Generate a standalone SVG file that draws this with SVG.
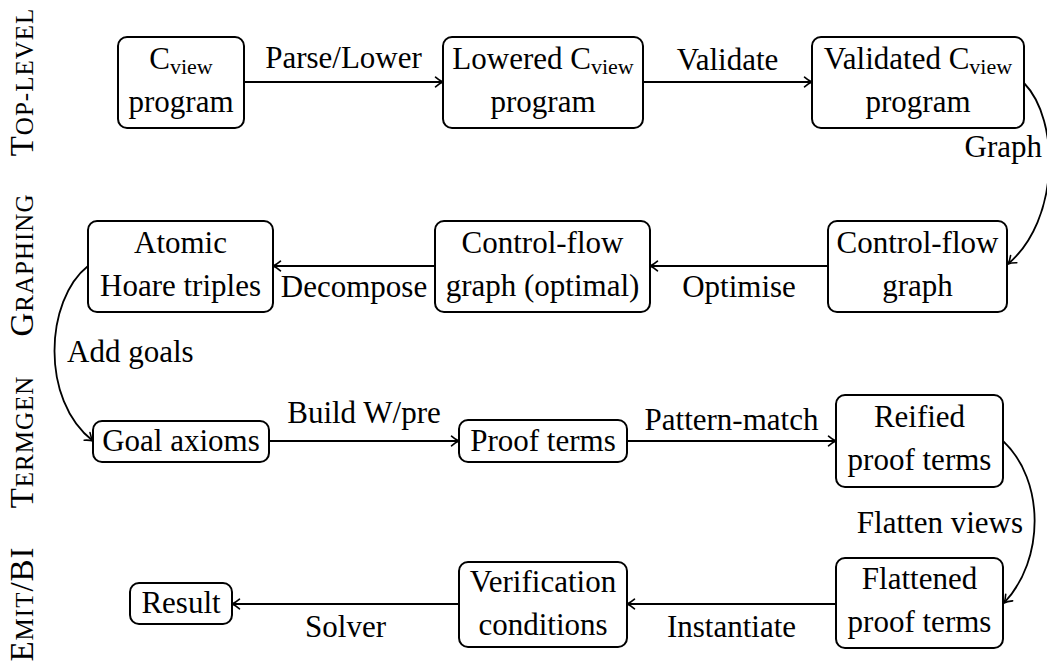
<svg xmlns="http://www.w3.org/2000/svg" width="1047" height="664" viewBox="0 0 1047 664" font-family="'Liberation Serif', serif" font-size="31">
  <style>
    .c { text-anchor: middle; }
    .sub { font-size: 22px; }
    .box { fill: #fff; stroke: #000; stroke-width: 2; }
    .edge { fill: none; stroke: #000; stroke-width: 1.8; marker-end: url(#tip); }
    .lane { font-size: 33px; letter-spacing: 1px; text-anchor: middle; }
    .sc { font-size: 25px; }
  </style>
  <defs>
    <marker id="tip" markerUnits="userSpaceOnUse" viewBox="-9 -6 10 12" refX="0" refY="0" markerWidth="10" markerHeight="12" orient="auto" overflow="visible">
      <path d="M-7.5,-4.8 C-4.5,-2.2 -1.8,-0.6 0,0 C-1.8,0.6 -4.5,2.2 -7.5,4.8" fill="none" stroke="#000" stroke-width="1.6" stroke-linecap="round"/>
    </marker>
  </defs>

  <!-- stage labels down the left margin -->
  <g id="lanes">
    <text class="lane" transform="translate(33,82) rotate(-90)">T<tspan class="sc">OP-LEVEL</tspan></text>
    <text class="lane" transform="translate(33,265) rotate(-90)">G<tspan class="sc">RAPHING</tspan></text>
    <text class="lane" transform="translate(33,442) rotate(-90)">T<tspan class="sc">ERMGEN</tspan></text>
    <text class="lane" transform="translate(33,604) rotate(-90)">E<tspan class="sc">MIT</tspan>/BI</text>
  </g>

  <!-- connectors -->
  <g id="edges">
    <path class="edge" d="M244,82 H443"/>
    <path class="edge" d="M643,82 H812"/>
    <path class="edge" d="M1024,83 C1060,120 1060,220 1008,264"/>
    <path class="edge" d="M828,266 H650"/>
    <path class="edge" d="M435,266 H273"/>
    <path class="edge" d="M88,266 C45,300 40,400 93,441"/>
    <path class="edge" d="M269,441 H459"/>
    <path class="edge" d="M627,441 H836"/>
    <path class="edge" d="M1003,441 C1045,480 1045,560 1004,603"/>
    <path class="edge" d="M836,604 H627"/>
    <path class="edge" d="M459,604 H232"/>
  </g>

  <!-- connector labels -->
  <g id="edge-labels">
    <text class="c" x="343.5" y="68">Parse/Lower</text>
    <text class="c" x="727.5" y="70">Validate</text>
    <text x="1042" y="157" text-anchor="end">Graph</text>
    <text class="c" x="739" y="297">Optimise</text>
    <text class="c" x="354" y="297">Decompose</text>
    <text x="67" y="362">Add goals</text>
    <text class="c" x="364" y="423">Build W/pre</text>
    <text class="c" x="731.5" y="430">Pattern-match</text>
    <text x="1023" y="533" text-anchor="end">Flatten views</text>
    <text class="c" x="731.5" y="637">Instantiate</text>
    <text class="c" x="345.5" y="637">Solver</text>
  </g>

  <g id="cview">
    <rect class="box" x="118" y="37" width="126" height="91" rx="9"/>
    <text class="c" x="181" y="69">C<tspan class="sub" dy="5">view</tspan></text>
    <text class="c" x="181" y="112">program</text>
  </g>
  <g id="lowered">
    <rect class="box" x="443" y="37" width="200" height="91" rx="9"/>
    <text class="c" x="543" y="69">Lowered C<tspan class="sub" dy="5">view</tspan></text>
    <text class="c" x="543" y="112">program</text>
  </g>
  <g id="validated">
    <rect class="box" x="812" y="37" width="212" height="91" rx="9"/>
    <text class="c" x="918" y="69">Validated C<tspan class="sub" dy="5">view</tspan></text>
    <text class="c" x="918" y="112">program</text>
  </g>
  <g id="cfg">
    <rect class="box" x="828" y="221" width="179" height="91" rx="9"/>
    <text class="c" x="917.5" y="253">Control-flow</text>
    <text class="c" x="917.5" y="296">graph</text>
  </g>
  <g id="cfg-optimal">
    <rect class="box" x="435" y="221" width="215" height="91" rx="9"/>
    <text class="c" x="542.5" y="253">Control-flow</text>
    <text class="c" x="542.5" y="296">graph (optimal)</text>
  </g>
  <g id="atomic">
    <rect class="box" x="88" y="221" width="185" height="91" rx="9"/>
    <text class="c" x="180.5" y="253">Atomic</text>
    <text class="c" x="180.5" y="296">Hoare triples</text>
  </g>
  <g id="goal-axioms">
    <rect class="box" x="93" y="421" width="176" height="41" rx="9"/>
    <text class="c" x="181" y="451">Goal axioms</text>
  </g>
  <g id="proof-terms">
    <rect class="box" x="459" y="420" width="168" height="42" rx="9"/>
    <text class="c" x="543" y="451">Proof terms</text>
  </g>
  <g id="reified">
    <rect class="box" x="836" y="395" width="167" height="92" rx="9"/>
    <text class="c" x="919.5" y="427">Reified</text>
    <text class="c" x="919.5" y="470">proof terms</text>
  </g>
  <g id="flattened">
    <rect class="box" x="836" y="558" width="167" height="90" rx="9"/>
    <text class="c" x="919.5" y="589">Flattened</text>
    <text class="c" x="919.5" y="632">proof terms</text>
  </g>
  <g id="verification">
    <rect class="box" x="459" y="562" width="168" height="85" rx="9"/>
    <text class="c" x="543" y="592">Verification</text>
    <text class="c" x="543" y="635">conditions</text>
  </g>
  <g id="result">
    <rect class="box" x="130" y="583" width="102" height="41" rx="9"/>
    <text class="c" x="181" y="613">Result</text>
  </g>
</svg>
